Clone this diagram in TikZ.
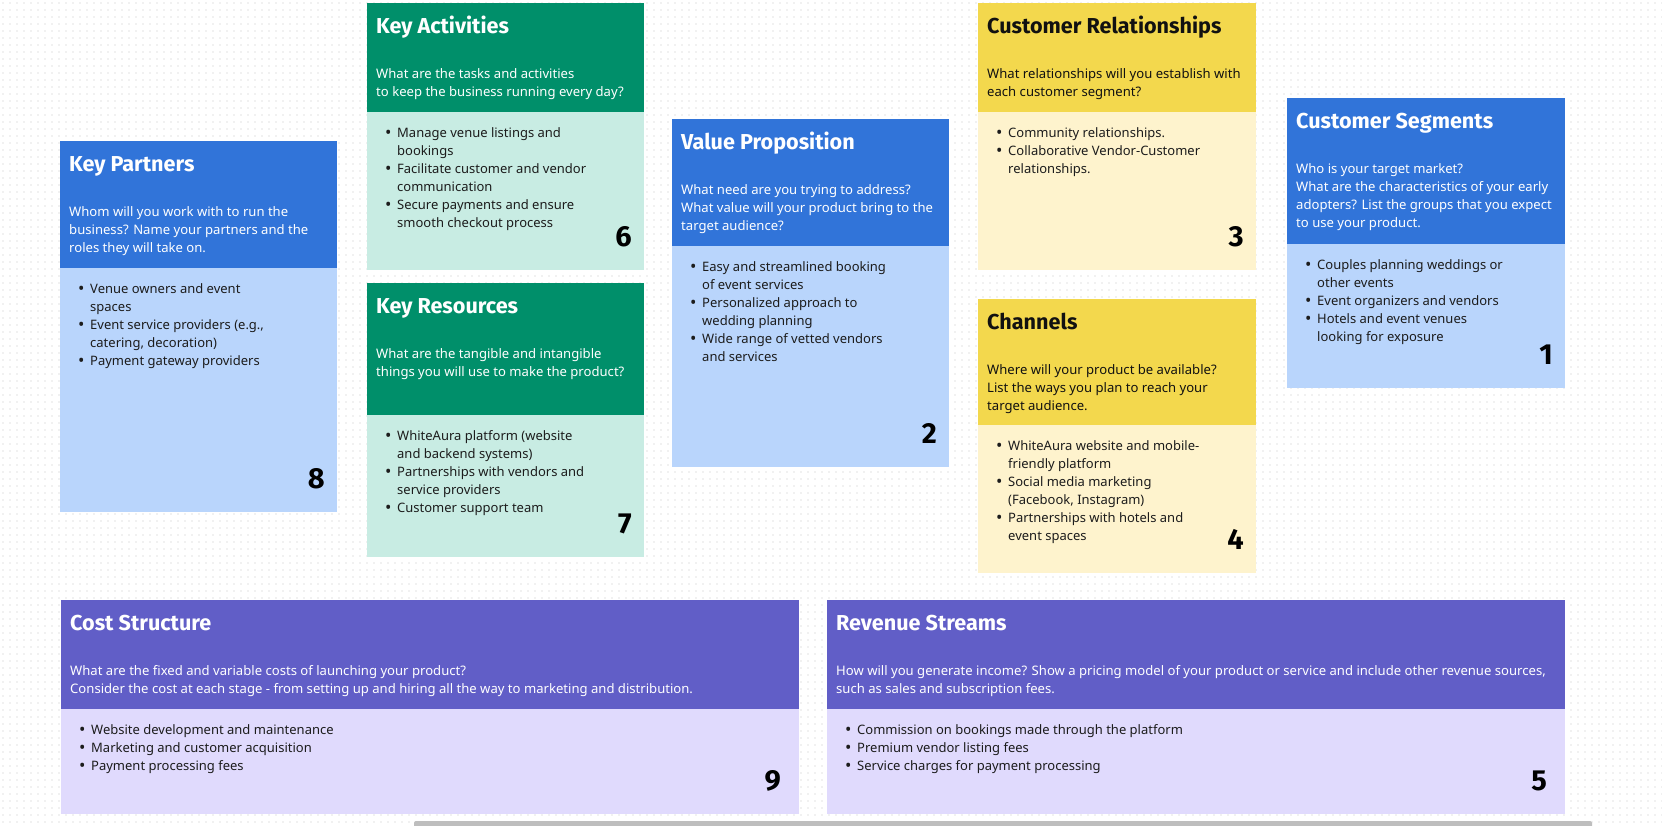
\documentclass[tikz,border=0pt]{standalone}
\usepackage{fontspec}
\setmainfont{Noto Sans}
\newfontfamily\titlefont{Fira Sans}
\usetikzlibrary{patterns.meta}

% palette
\definecolor{bluehead}{RGB}{49,116,217}
\definecolor{bluebody}{RGB}{185,213,252}
\definecolor{greenhead}{RGB}{0,143,106}
\definecolor{greenbody}{RGB}{200,236,227}
\definecolor{yellowhead}{RGB}{243,216,77}
\definecolor{yellowbody}{RGB}{254,243,205}
\definecolor{purplehead}{RGB}{97,94,199}
\definecolor{purplebody}{RGB}{224,218,253}
\definecolor{lightink}{RGB}{255,255,255}
\definecolor{darkink}{RGB}{17,17,17}
\definecolor{itemink}{RGB}{28,28,28}
\definecolor{dotgray}{RGB}{228,228,228}
\definecolor{scrollgray}{RGB}{190,190,190}

% stacked lines with a fixed 18pt baseline distance; the box baseline is the first line
\newcommand{\tlines}[1]{\vtop{\baselineskip=18pt\lineskiplimit=-30pt\lineskip=0pt #1}}
\newcommand{\tline}[1]{\hbox{#1}}
\newcommand{\bdot}{\raisebox{-1.2pt}{\fontsize{17}{18}\selectfont •}}
\newcommand{\bitem}[1]{\hbox{\hbox to 12pt{\bdot\hfil}#1}}
\newcommand{\bcont}[1]{\hbox{\hskip12pt #1}}

\tikzset{
  cardtitle/.style={anchor=base west,inner sep=0pt,font=\titlefont\bfseries\fontsize{21.6}{24}\selectfont},
  carddesc/.style={anchor=base west,inner sep=0pt,font=\fontsize{13.1}{18}\selectfont},
  carditems/.style={anchor=base west,inner sep=0pt,text=itemink,font=\fontsize{13}{18}\selectfont},
  cardnum/.style={anchor=base east,inner sep=0pt,text=black,font=\titlefont\bfseries\fontsize{29}{30}\selectfont},
}

% card background: name, left, top, right, header bottom, bottom, palette
\newcommand{\bmcbox}[7]{%
  \fill[#7body] (#2,#5) rectangle (#4,#6);
  \fill[#7head] (#2,#3) rectangle (#4,#5);
  \coordinate (#1-nw) at (#2,#3);
  \coordinate (#1-se) at (#4,#6);
}
% card texts: name, left, top, header bottom, ink, title, question, items
\newcommand{\bmctext}[8]{%
  \node[cardtitle,text=#5] (#1-title) at (#2+9,#3+30) {#6};
  \node[carddesc,text=#5] (#1-desc) at (#2+9,#3+75) {\tlines{#7}};
  \node[carditems] (#1-items) at (#2+18,#4+25) {\tlines{#8}};
}
% card number: name, x of right edge, baseline, digit
\newcommand{\bmcnum}[4]{%
  \node[cardnum] (#1-num) at (#2,#3) {#4};
}

\begin{document}
\begin{tikzpicture}[x=1pt,y=-1pt]
\useasboundingbox (0,0) rectangle (1662,825);
\fill[white] (0,0) rectangle (1662,825);
\fill[pattern={Dots[distance=7pt,radius=0.8pt,xshift=3pt,yshift=3pt]},pattern color=dotgray] (0,0) rectangle (1662,825);

% Key Partners
\bmcbox{kp}{60}{141}{337}{268}{512}{blue}
\bmctext{kp}{60}{141}{268}{lightink}{Key Partners}
  {\tline{Whom will you work with to run the}\tline{business? Name your partners and the}\tline{roles they will take on.}}
  {\bitem{Venue owners and event}\bcont{spaces}\bitem{Event service providers (e.g.,}\bcont{catering, decoration)}\bitem{Payment gateway providers}}
\bmcnum{kp}{325}{488}{8}

% Key Activities
\bmcbox{ka}{367}{3}{644}{112}{270}{green}
\bmctext{ka}{367}{3}{112}{lightink}{Key Activities}
  {\tline{What are the tasks and activities}\tline{to keep the business running every day?}}
  {\bitem{Manage venue listings and}\bcont{bookings}\bitem{Facilitate customer and vendor}\bcont{communication}\bitem{Secure payments and ensure}\bcont{smooth checkout process}}
\bmcnum{ka}{632}{246}{6}

% Key Resources
\bmcbox{kr}{367}{283}{644}{415}{557}{green}
\bmctext{kr}{367}{283}{415}{lightink}{Key Resources}
  {\tline{What are the tangible and intangible}\tline{things you will use to make the product?}}
  {\bitem{WhiteAura platform (website}\bcont{and backend systems)}\bitem{Partnerships with vendors and}\bcont{service providers}\bitem{Customer support team}}
\bmcnum{kr}{632}{533}{7}

% Value Proposition
\bmcbox{vp}{672}{119}{949}{246}{467}{blue}
\bmctext{vp}{672}{119}{246}{lightink}{Value Proposition}
  {\tline{What need are you trying to address?}\tline{What value will your product bring to the}\tline{target audience?}}
  {\bitem{Easy and streamlined booking}\bcont{of event services}\bitem{Personalized approach to}\bcont{wedding planning}\bitem{Wide range of vetted vendors}\bcont{and services}}
\bmcnum{vp}{937}{443}{2}

% Customer Relationships
\bmcbox{cr}{978}{3}{1256}{112}{270}{yellow}
\bmctext{cr}{978}{3}{112}{darkink}{Customer Relationships}
  {\tline{What relationships will you establish with}\tline{each customer segment?}}
  {\bitem{Community relationships.}\bitem{Collaborative Vendor-Customer}\bcont{relationships.}}
\bmcnum{cr}{1244}{246}{3}

% Channels
\bmcbox{ch}{978}{299}{1256}{425}{573}{yellow}
\bmctext{ch}{978}{299}{425}{darkink}{Channels}
  {\tline{Where will your product be available?}\tline{List the ways you plan to reach your}\tline{target audience.}}
  {\bitem{WhiteAura website and mobile-}\bcont{friendly platform}\bitem{Social media marketing}\bcont{(Facebook, Instagram)}\bitem{Partnerships with hotels and}\bcont{event spaces}}
\bmcnum{ch}{1244}{549}{4}

% Customer Segments
\bmcbox{cs}{1287}{98}{1565}{244}{388}{blue}
\bmctext{cs}{1287}{98}{244}{lightink}{Customer Segments}
  {\tline{Who is your target market?}\tline{What are the characteristics of your early}\tline{adopters? List the groups that you expect}\tline{to use your product.}}
  {\bitem{Couples planning weddings or}\bcont{other events}\bitem{Event organizers and vendors}\bitem{Hotels and event venues}\bcont{looking for exposure}}
\bmcnum{cs}{1553}{364}{1}

% Cost Structure
\bmcbox{cst}{61}{600}{799}{709}{814}{purple}
\bmctext{cst}{61}{600}{709}{lightink}{Cost Structure}
  {\tline{What are the fixed and variable costs of launching your product?}\tline{Consider the cost at each stage - from setting up and hiring all the way to marketing and distribution.}}
  {\bitem{Website development and maintenance}\bitem{Marketing and customer acquisition}\bitem{Payment processing fees}}
\bmcnum{cst}{781}{790}{9}

% Revenue Streams
\bmcbox{rs}{827}{600}{1565}{709}{814}{purple}
\bmctext{rs}{827}{600}{709}{lightink}{Revenue Streams}
  {\tline{How will you generate income? Show a pricing model of your product or service and include other revenue sources,}\tline{such as sales and subscription fees.}}
  {\bitem{Commission on bookings made through the platform}\bitem{Premium vendor listing fees}\bitem{Service charges for payment processing}}
\bmcnum{rs}{1547}{790}{5}

% horizontal scroll bar along the bottom edge
\fill[scrollgray,rounded corners=2pt] (414,821) rectangle (1592,828);
\end{tikzpicture}
\end{document}
